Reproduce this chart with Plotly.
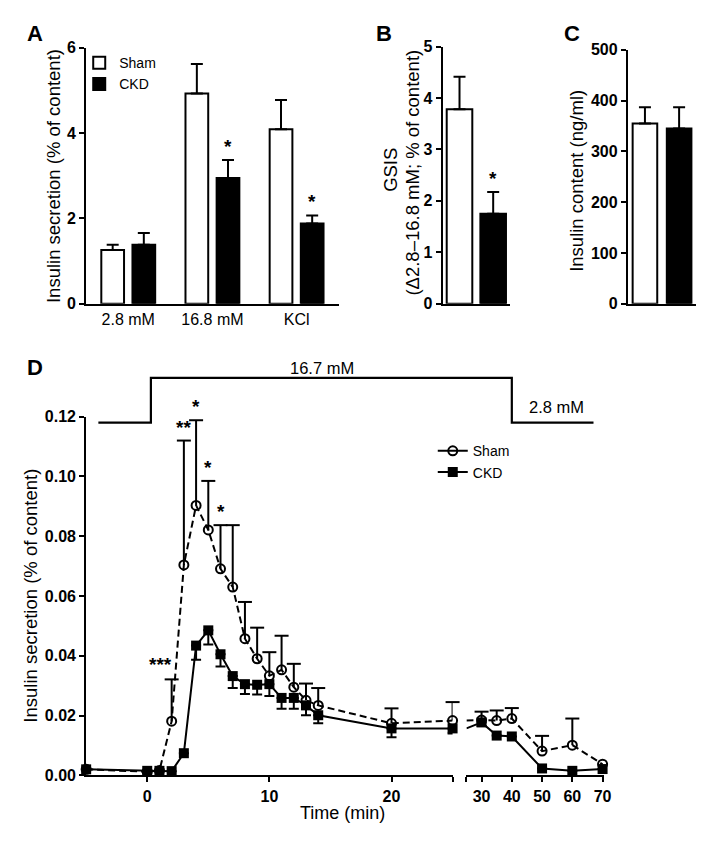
import plotly.graph_objects as go

W, H = 723, 849
FONT = "Liberation Sans, Arial, Helvetica, sans-serif"

# ---------------- data ----------------
a_categories = ["2.8 mM", "16.8 mM", "KCl"]
a_sham = [1.26, 4.93, 4.09]
a_sham_sem = [0.12, 0.69, 0.69]
a_ckd = [1.38, 2.95, 1.88]
a_ckd_sem = [0.28, 0.42, 0.19]
a_sig = ["", "*", "*"]

bc_groups = ["Sham", "CKD"]
b_values = [3.78, 1.75]
b_sem = [0.63, 0.42]
b_sig = ["", "*"]

c_values = [355, 345]
c_sem = [32, 42]

d_time = [-5, 0, 1, 2, 3, 4, 5, 6, 7, 8, 9, 10, 11, 12, 13, 14, 20, 25, 30, 35, 40, 50, 60, 70]
sham = [0.0020, 0.0012, 0.0016, 0.0181, 0.0704, 0.0903, 0.0821, 0.0691, 0.0630, 0.0457, 0.0390,
        0.0333, 0.0353, 0.0295, 0.0251, 0.0234, 0.0174, 0.0183, 0.0185, 0.0183, 0.0190, 0.0081,
        0.0101, 0.0037]
sham_sem = [0, 0, 0, 0.0140, 0.0416, 0.0285, 0.0164, 0.0146, 0.0207, 0.0123, 0.0104, 0.0079,
            0.0114, 0.0078, 0.0056, 0.0058, 0.0050, 0.0062, 0.0028, 0.0034, 0.0035, 0.0051,
            0.0089, 0]
ckd = [0.0020, 0.0015, 0.0015, 0.0014, 0.0074, 0.0434, 0.0485, 0.0405, 0.0332, 0.0305, 0.0303,
       0.0305, 0.0259, 0.0259, 0.0234, 0.0201, 0.0157, 0.0157, 0.0177, 0.0133, 0.0130, 0.0023,
       0.0015, 0.0021]
ckd_sem = [0, 0, 0, 0, 0, 0.0047, 0.0047, 0.0041, 0.0040, 0.0033, 0.0033, 0.0040, 0.0036, 0.0036,
           0.0033, 0.0027, 0.0030, 0.0017, 0.0012, 0, 0, 0, 0, 0]
d_sig_times = [2, 3, 4, 5, 6]
d_sig_labels = ["***", "**", "*", "*", "*"]

stim_low, stim_high = 0.118, 0.133
stim_start, stim_on, stim_off, stim_end = -4, 0.3, 40, 67

# ---------------- layout helpers (window pixel -> paper) ----------------
def px_x(p):
    return p / W

def px_y(p):
    return 1 - p / H

def dom_x(l, r):
    return [px_x(l), px_x(r)]

def dom_y(bottom, top):
    return [px_y(bottom), px_y(top)]

D1 = dict(l=87, r=457, lo=-5, hi=25)
D2 = dict(l=471, r=610, lo=25, hi=70.5)
DY = dict(b=783, t=417, lo=0, hi=0.12)

def d_px(t, seg):
    return seg["l"] + (t - seg["lo"]) * (seg["r"] - seg["l"]) / (seg["hi"] - seg["lo"])

def d_py(v):
    return DY["b"] - (v - DY["lo"]) * (DY["b"] - DY["t"]) / (DY["hi"] - DY["lo"])

BLK = "black"
fig = go.Figure()

# ---------------- panel A ----------------
fig.add_trace(go.Bar(
    x=a_categories, y=a_sham, width=0.27, offset=-0.32, name="Sham",
    marker=dict(color="white", line=dict(color=BLK, width=2)),
    error_y=dict(type="data", array=a_sham_sem, arrayminus=[0] * 3, symmetric=False,
                 color=BLK, thickness=2, width=6),
    xaxis="x", yaxis="y", legend="legend"))
fig.add_trace(go.Bar(
    x=a_categories, y=a_ckd, width=0.27, offset=0.05, name="CKD",
    marker=dict(color=BLK, line=dict(color=BLK, width=2)),
    error_y=dict(type="data", array=a_ckd_sem, arrayminus=[0] * 3, symmetric=False,
                 color=BLK, thickness=2, width=6),
    xaxis="x", yaxis="y", legend="legend"))

# ---------------- panel B ----------------
fig.add_trace(go.Bar(
    x=bc_groups, y=b_values, width=0.76, showlegend=False,
    marker=dict(color=["white", BLK], line=dict(color=BLK, width=2)),
    error_y=dict(type="data", array=b_sem, arrayminus=[0, 0], symmetric=False,
                 color=BLK, thickness=2, width=6),
    xaxis="x2", yaxis="y2"))

# ---------------- panel C ----------------
fig.add_trace(go.Bar(
    x=bc_groups, y=c_values, width=0.72, showlegend=False,
    marker=dict(color=["white", BLK], line=dict(color=BLK, width=2)),
    error_y=dict(type="data", array=c_sem, arrayminus=[0, 0], symmetric=False,
                 color=BLK, thickness=2, width=6),
    xaxis="x3", yaxis="y3"))

# ---------------- panel D ----------------
def sel(arr, cond):
    return [a for a, t in zip(arr, d_time) if cond(t)]

seg1 = lambda t: t <= 25
seg2m = lambda t: t >= 30
seg2l = lambda t: t >= 25

sham_line = dict(color=BLK, width=2, dash="7px,4px")
ckd_line = dict(color=BLK, width=2)
sham_marker = dict(symbol="circle-open", size=9, color=BLK, line=dict(width=2, color=BLK))
ckd_marker = dict(symbol="square", size=10, color=BLK)

for seg, xa, show in [(seg1, "x4", True), (seg2m, "x5", False)]:
    t = sel(d_time, seg)
    s = sel(sham, seg)
    ss = sel(sham_sem, seg)
    c = sel(ckd, seg)
    cs = sel(ckd_sem, seg)
    mode = "lines+markers" if show else "markers"
    fig.add_trace(go.Scatter(
        x=t, y=c, mode=mode, name="CKD", line=ckd_line, marker=ckd_marker,
        error_y=dict(type="data", array=[0] * len(t), arrayminus=cs, symmetric=False,
                     color=BLK, thickness=2, width=5),
        cliponaxis=False, showlegend=False, xaxis=xa, yaxis="y4"))
    fig.add_trace(go.Scatter(
        x=t, y=s, mode=mode, name="Sham", line=sham_line, marker=sham_marker,
        error_y=dict(type="data", array=ss, arrayminus=[0] * len(t), symmetric=False,
                     color=BLK, thickness=2, width=0),
        cliponaxis=False, showlegend=False, xaxis=xa, yaxis="y4"))
    capt = [tt for tt, e in zip(t, ss) if e > 0]
    capy = [v + e for v, e in zip(s, ss) if e > 0]
    fig.add_trace(go.Scatter(
        x=capt, y=capy, mode="markers", hoverinfo="skip",
        marker=dict(symbol="line-ew", size=10, line=dict(width=2, color=BLK)),
        cliponaxis=False, showlegend=False, xaxis=xa, yaxis="y4"))

# segment-2 connecting lines (from the 25 min point across the break)
fig.add_trace(go.Scatter(x=sel(d_time, seg2l), y=sel(ckd, seg2l), mode="lines", line=ckd_line,
                         showlegend=False, hoverinfo="skip", xaxis="x5", yaxis="y4"))
fig.add_trace(go.Scatter(x=sel(d_time, seg2l), y=sel(sham, seg2l), mode="lines", line=sham_line,
                         showlegend=False, hoverinfo="skip", xaxis="x5", yaxis="y4"))

# legend-only entries for D
fig.add_trace(go.Scatter(x=[None], y=[None], mode="lines+markers", name="Sham",
                         line=dict(color=BLK, width=2), marker=sham_marker,
                         xaxis="x4", yaxis="y4", legend="legend2"))
fig.add_trace(go.Scatter(x=[None], y=[None], mode="lines+markers", name="CKD",
                         line=ckd_line, marker=ckd_marker,
                         xaxis="x4", yaxis="y4", legend="legend2"))

# ---------------- annotations ----------------
ann = []
def star(x, y, text, xref, yref, xanchor="center", xshift=0, yshift=1):
    ann.append(dict(x=x, y=y, xref=xref, yref=yref, text=text, showarrow=False,
                    xanchor=xanchor, yanchor="bottom", xshift=xshift, yshift=yshift,
                    font=dict(family=FONT, size=19, color=BLK, weight="bold")))

for i, (v, e, s) in enumerate(zip(a_ckd, a_ckd_sem, a_sig)):
    if s:
        star(i + 0.185, v + e, s, "x", "y")
for i, (v, e, s) in enumerate(zip(b_values, b_sem, b_sig)):
    if s:
        star(i, v + e, s, "x2", "y2")
for t, s in zip(d_sig_times, d_sig_labels):
    k = d_time.index(t)
    top = sham[k] + sham_sem[k]
    if s == "***":
        star(t, top, s, "x4", "y4", xanchor="right", xshift=2, yshift=2)
    else:
        star(t, top, s, "x4", "y4")

def text(x, y, s, size, bold=False, angle=0):
    ann.append(dict(x=px_x(x), y=px_y(y), xref="paper", yref="paper", text=s, showarrow=False,
                    xanchor="center", yanchor="middle", textangle=angle,
                    font=dict(family=FONT, size=size, color=BLK,
                              weight="bold" if bold else "normal")))

text(35, 26, "A", 22, True)
text(388, 26, "B", 22, True)
text(578, 26, "C", 22, True)
text(35, 367, "D", 22, True)

text(54, 171, "Insulin secretion (% of content)", 18.5, angle=-90)
text(395, 165, "GSIS", 18.5, angle=-90)
text(417, 168, "(Δ2.8–16.8 mM; % of content)", 18.5, angle=-90)
text(582, 176, "Insulin content (ng/ml)", 18.5, angle=-90)
text(31, 600, "Insulin secretion (% of content)", 18.5, angle=-90)
text(346, 821, "Time (min)", 18)

text(325, 367, "16.7 mM", 16.5)
text(562, 407, "2.8 mM", 16.5)

# stimulus step line
sx = [d_px(stim_start, D1), d_px(stim_on, D1), d_px(stim_on, D1),
      d_px(stim_off, D2), d_px(stim_off, D2), d_px(stim_end, D2)]
sy = [d_py(stim_low), d_py(stim_low), d_py(stim_high), d_py(stim_high), d_py(stim_low), d_py(stim_low)]
path = "M " + " L ".join(f"{px_x(a):.5f},{px_y(b):.5f}" for a, b in zip(sx, sy))
shapes = [dict(type="path", path=path, xref="paper", yref="paper",
               line=dict(color=BLK, width=2.2))]

# ---------------- axes ----------------
tickfont_b = dict(family=FONT, size=16, color=BLK, weight="bold")
common = dict(showline=True, linecolor=BLK, linewidth=2, showgrid=False, zeroline=False,
              ticks="outside", ticklen=5, tickwidth=2, tickcolor=BLK, tickfont=tickfont_b)
xcat = dict(showline=True, linecolor=BLK, linewidth=2, showgrid=False, zeroline=False,
            ticks="", type="category", range=[-0.5, 2.5])

layout = dict(
    width=W, height=H, autosize=False,
    margin=dict(l=0, r=0, t=0, b=0),
    paper_bgcolor="white", plot_bgcolor="white",
    barmode="overlay", showlegend=True,
    font=dict(family=FONT, color=BLK),
    xaxis=dict(**xcat, domain=dom_x(87, 342), anchor="y",
               tickfont=dict(family=FONT, size=16, color=BLK)),
    yaxis=dict(**common, domain=dom_y(301.7, 40.7), anchor="x", range=[0, 6],
               tickvals=[0, 2, 4, 6]),
    xaxis2=dict(xcat, domain=dom_x(447, 515), anchor="y2", range=[-0.5, 1.5],
                showticklabels=False),
    yaxis2=dict(**common, domain=dom_y(301.7, 39.3), anchor="x2", range=[0, 5], dtick=1),
    xaxis3=dict(xcat, domain=dom_x(634, 703), anchor="y3", range=[-0.5, 1.5],
                showticklabels=False),
    yaxis3=dict(**common, domain=dom_y(301.7, 42.7), anchor="x3", range=[0, 500], dtick=100),
    xaxis4=dict(**common, domain=dom_x(D1["l"], D1["r"]), anchor="y4",
                range=[D1["lo"], D1["hi"]], tickvals=[0, 10, 20, 25],
                ticktext=["0", "10", "20", ""]),
    xaxis5=dict(**common, domain=dom_x(D2["l"], D2["r"]), anchor="y4",
                range=[D2["lo"], D2["hi"]], tickvals=[25, 30, 40, 50, 60, 70],
                ticktext=["", "30", "40", "50", "60", "70"]),
    yaxis4=dict(**common, domain=dom_y(DY["b"], DY["t"]), anchor="x4",
                range=[DY["lo"], DY["hi"]], dtick=0.02, tickformat=".2f"),
    legend=dict(x=px_x(80), y=px_y(40), xanchor="left", yanchor="top",
                bgcolor="rgba(0,0,0,0)", font=dict(family=FONT, size=14, color=BLK),
                tracegroupgap=0, traceorder="normal"),
    legend2=dict(x=px_x(437), y=px_y(436), xanchor="left", yanchor="top",
                 bgcolor="rgba(0,0,0,0)", font=dict(family=FONT, size=14, color=BLK),
                 tracegroupgap=0, traceorder="normal", itemwidth=30),
    annotations=ann,
    shapes=shapes,
)
fig.update_layout(**layout)

# pin the figure to the window's top-left corner (no default page margin)
pin = ("document.body.style.margin='0';"
       "var d=document.getElementById('{plot_id}');"
       "d.style.position='fixed';d.style.left='0px';d.style.top='0px';")
fig.write_html("out.html", post_script=pin, config={"displayModeBar": False})
